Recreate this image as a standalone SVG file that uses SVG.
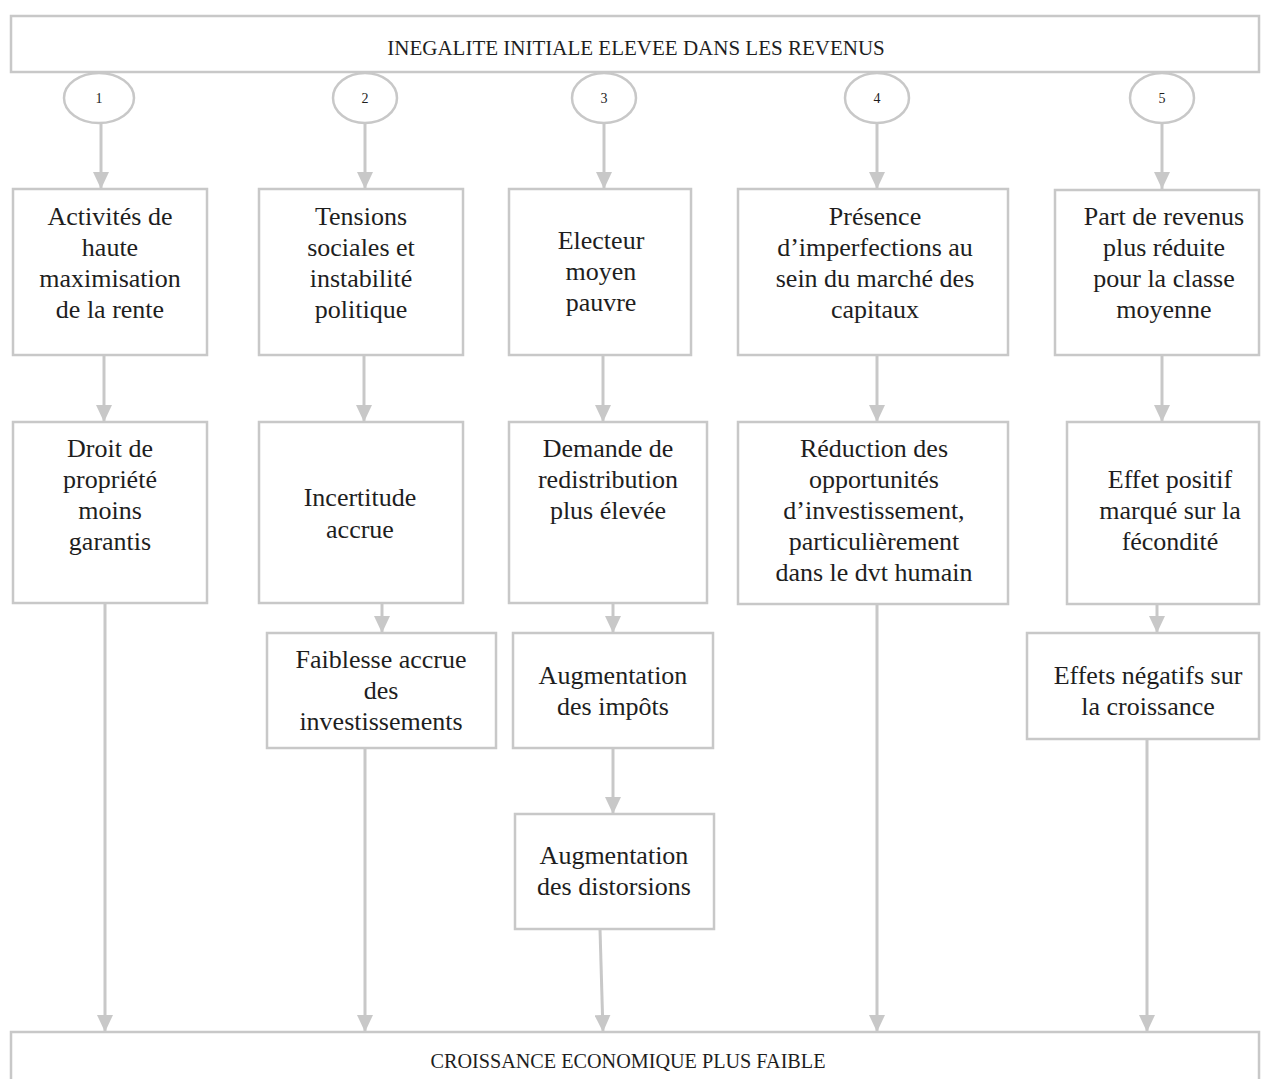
<svg xmlns="http://www.w3.org/2000/svg" width="1261" height="1079" viewBox="0 0 1261 1079">
<style>
  .bx{fill:#fff;stroke:#c8c8c8;stroke-width:2.5}
  .el{fill:#fff;stroke:#c8c8c8;stroke-width:2.5}
  text{font-family:"Liberation Serif","Times New Roman",serif;fill:#1e1e1e;text-anchor:middle}
  .t{font-size:26px}
  .ts{font-size:21px}
  .tn{font-size:14px}
  .c{fill:none;stroke:#c8c8c8;stroke-width:3;marker-end:url(#ah)}
</style>
<defs>
  <marker id="ah" viewBox="0 0 17 16" refX="17" refY="8" markerWidth="17" markerHeight="16" orient="auto" markerUnits="userSpaceOnUse">
    <path d="M0,0 L17,8 L0,16 z" fill="#c8c8c8"/>
  </marker>
</defs>
<rect width="1261" height="1079" fill="#fff"/>

<g id="connectors">
  <line class="c" x1="101" y1="123" x2="101" y2="189"/>
  <line class="c" x1="365" y1="123" x2="365" y2="189"/>
  <line class="c" x1="604" y1="123" x2="604" y2="189"/>
  <line class="c" x1="877" y1="123" x2="877" y2="189"/>
  <line class="c" x1="1162" y1="123" x2="1162" y2="189"/>

  <line class="c" x1="104" y1="355" x2="104" y2="422"/>
  <line class="c" x1="364" y1="355" x2="364" y2="422"/>
  <line class="c" x1="603" y1="355" x2="603" y2="422"/>
  <line class="c" x1="877" y1="355" x2="877" y2="422"/>
  <line class="c" x1="1162" y1="355" x2="1162" y2="422"/>

  <line class="c" x1="382" y1="603" x2="382" y2="633"/>
  <line class="c" x1="613" y1="603" x2="613" y2="633"/>
  <line class="c" x1="1157" y1="604" x2="1157" y2="633"/>

  <line class="c" x1="613" y1="748" x2="613" y2="814"/>

  <line class="c" x1="105" y1="603" x2="105" y2="1032"/>
  <line class="c" x1="365" y1="748" x2="365" y2="1032"/>
  <line class="c" x1="600" y1="929" x2="603" y2="1032"/>
  <line class="c" x1="877" y1="601" x2="877" y2="1032"/>
  <line class="c" x1="1147" y1="739" x2="1147" y2="1032"/>
</g>

<g id="top">
  <rect class="bx" x="11" y="16" width="1248" height="56"/>
  <text class="ts" x="636" y="55" font-family="Liberation Serif, serif">INEGALITE INITIALE ELEVEE DANS LES REVENUS</text>
</g>

<g id="c1"><ellipse class="el" cx="99" cy="98" rx="35" ry="25"/><text class="tn" x="99" y="103">1</text></g>
<g id="c2"><ellipse class="el" cx="365" cy="98" rx="32" ry="25"/><text class="tn" x="365" y="103">2</text></g>
<g id="c3"><ellipse class="el" cx="604" cy="98" rx="32" ry="25"/><text class="tn" x="604" y="103">3</text></g>
<g id="c4"><ellipse class="el" cx="877" cy="98" rx="32" ry="25"/><text class="tn" x="877" y="103">4</text></g>
<g id="c5"><ellipse class="el" cx="1162" cy="98" rx="32" ry="25"/><text class="tn" x="1162" y="103">5</text></g>

<g id="r1b1" font-family="Liberation Serif, serif">
  <rect class="bx" x="13" y="189" width="194" height="166"/>
  <text class="t" x="110" y="225">Activités de</text>
  <text class="t" x="110" y="256">haute</text>
  <text class="t" x="110" y="287">maximisation</text>
  <text class="t" x="110" y="318">de la rente</text>
</g>
<g id="r1b2" font-family="Liberation Serif, serif">
  <rect class="bx" x="259" y="189" width="204" height="166"/>
  <text class="t" x="361" y="225">Tensions</text>
  <text class="t" x="361" y="256">sociales et</text>
  <text class="t" x="361" y="287">instabilité</text>
  <text class="t" x="361" y="318">politique</text>
</g>
<g id="r1b3" font-family="Liberation Serif, serif">
  <rect class="bx" x="509" y="189" width="182" height="166"/>
  <text class="t" x="601" y="249">Electeur</text>
  <text class="t" x="601" y="280">moyen</text>
  <text class="t" x="601" y="311">pauvre</text>
</g>
<g id="r1b4" font-family="Liberation Serif, serif">
  <rect class="bx" x="738" y="189" width="270" height="166"/>
  <text class="t" x="875" y="225">Présence</text>
  <text class="t" x="875" y="256">d’imperfections au</text>
  <text class="t" x="875" y="287">sein du marché des</text>
  <text class="t" x="875" y="318">capitaux</text>
</g>
<g id="r1b5" font-family="Liberation Serif, serif">
  <rect class="bx" x="1055" y="190" width="204" height="165"/>
  <text class="t" x="1164" y="225">Part de revenus</text>
  <text class="t" x="1164" y="256">plus réduite</text>
  <text class="t" x="1164" y="287">pour la classe</text>
  <text class="t" x="1164" y="318">moyenne</text>
</g>

<g id="r2b1" font-family="Liberation Serif, serif">
  <rect class="bx" x="13" y="422" width="194" height="181"/>
  <text class="t" x="110" y="457">Droit de</text>
  <text class="t" x="110" y="488">propriété</text>
  <text class="t" x="110" y="519">moins</text>
  <text class="t" x="110" y="550">garantis</text>
</g>
<g id="r2b2" font-family="Liberation Serif, serif">
  <rect class="bx" x="259" y="422" width="204" height="181"/>
  <text class="t" x="360" y="506">Incertitude</text>
  <text class="t" x="360" y="538">accrue</text>
</g>
<g id="r2b3" font-family="Liberation Serif, serif">
  <rect class="bx" x="509" y="422" width="198" height="181"/>
  <text class="t" x="608" y="457">Demande de</text>
  <text class="t" x="608" y="488">redistribution</text>
  <text class="t" x="608" y="519">plus élevée</text>
</g>
<g id="r2b4" font-family="Liberation Serif, serif">
  <rect class="bx" x="738" y="422" width="270" height="182"/>
  <text class="t" x="874" y="457">Réduction des</text>
  <text class="t" x="874" y="488">opportunités</text>
  <text class="t" x="874" y="519">d’investissement,</text>
  <text class="t" x="874" y="550">particulièrement</text>
  <text class="t" x="874" y="581">dans le dvt humain</text>
</g>
<g id="r2b5" font-family="Liberation Serif, serif">
  <rect class="bx" x="1067" y="422" width="192" height="182"/>
  <text class="t" x="1170" y="488">Effet positif</text>
  <text class="t" x="1170" y="519">marqué sur la</text>
  <text class="t" x="1170" y="550">fécondité</text>
</g>

<g id="r3b2" font-family="Liberation Serif, serif">
  <rect class="bx" x="267" y="633" width="229" height="115"/>
  <text class="t" x="381" y="668">Faiblesse accrue</text>
  <text class="t" x="381" y="699">des</text>
  <text class="t" x="381" y="730">investissements</text>
</g>
<g id="r3b3" font-family="Liberation Serif, serif">
  <rect class="bx" x="513" y="633" width="200" height="115"/>
  <text class="t" x="613" y="684">Augmentation</text>
  <text class="t" x="613" y="715">des impôts</text>
</g>
<g id="r3b5" font-family="Liberation Serif, serif">
  <rect class="bx" x="1027" y="633" width="232" height="106"/>
  <text class="t" x="1148" y="684">Effets négatifs sur</text>
  <text class="t" x="1148" y="715">la croissance</text>
</g>

<g id="r4b3" font-family="Liberation Serif, serif">
  <rect class="bx" x="515" y="814" width="199" height="115"/>
  <text class="t" x="614" y="864">Augmentation</text>
  <text class="t" x="614" y="895">des distorsions</text>
</g>

<g id="bottom" font-family="Liberation Serif, serif">
  <rect class="bx" x="11" y="1032" width="1248" height="60"/>
  <text class="ts" x="628" y="1068" style="font-size:20px" textLength="395" lengthAdjust="spacingAndGlyphs">CROISSANCE ECONOMIQUE PLUS FAIBLE</text>
</g>
</svg>
